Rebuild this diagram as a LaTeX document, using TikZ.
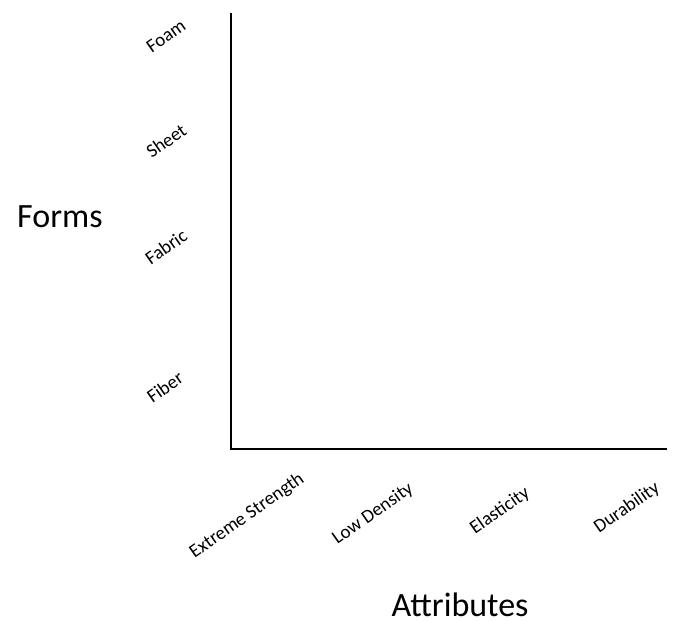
\documentclass[tikz,border=0pt]{standalone}
\usepackage{fontspec}
\setmainfont{Carlito}
\begin{document}
\begin{tikzpicture}[x=1pt,y=-1pt,
  axis/.style={line width=2.6pt, line cap=rect},
  tick/.style={font=\fontsize{19}{19}\selectfont, rotate=35, anchor=center, inner sep=0pt},
  title/.style={font=\fontsize{34}{34}\selectfont, inner sep=0pt}]
\useasboundingbox (0,0) rectangle (673,622);
\coordinate (top) at (231,14);
\coordinate (origin) at (231,449);
\coordinate (right) at (666,449);
\draw[axis] (top) -- (origin) -- (right);
\node[tick] (foam) at (166,36) {Foam};
\node[tick] (sheet) at (166,141) {Sheet};
\node[tick] (fabric) at (166,247) {Fabric};
\node[tick] (fiber) at (165,387) {Fiber};
\node[tick] (es) at (247,516) {Extreme Strength};
\node[tick] (ld) at (373,514) {Low Density};
\node[tick] (el) at (500,511) {Elasticity};
\node[tick] (du) at (627,508) {Durability};
\node[title, anchor=base west] (forms) at (17,227) {Forms};
\node[title, anchor=base] (attr) at (460,616) {Attributes};
\end{tikzpicture}
\end{document}
